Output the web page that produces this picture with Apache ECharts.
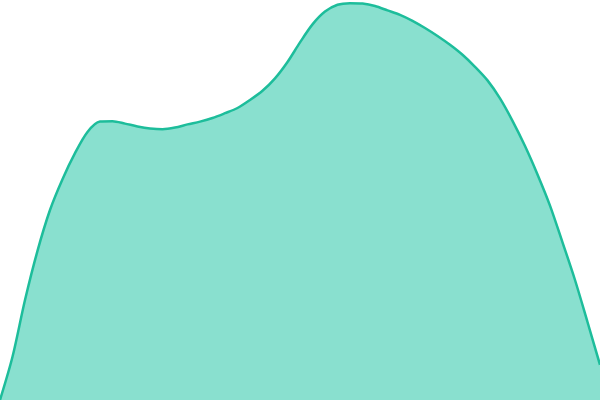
<!DOCTYPE html>
<html><head><meta charset="utf-8">
<script src="https://cdn.jsdelivr.net/npm/echarts@6/dist/echarts.min.js"></script>
<style>html,body{margin:0;padding:0;background:#fff}#c{width:600px;height:400px}</style>
</head><body><div id="c"></div>
<script>
var categories = [];
for (var i = 1; i <= 49; i++) { categories.push(String(i)); }
var values = [0, 10.8, 25, 37.3, 47.5, 55.2, 61.7, 67, 69.6, 69.7, 69.1, 68.4, 67.9, 67.7, 68.1, 68.9,
  69.6, 70.5, 71.7, 73, 75, 77.3, 80.4, 84.5, 89.4, 93.9, 97.1, 98.8, 99.2, 99.1, 98.5, 97.4,
  96.3, 94.8, 93, 91, 88.8, 86.3, 83.3, 79.9, 75.4, 69.8, 63.5, 56.4, 48.6, 39.4, 30, 19.5, 8.8];
var chart = echarts.init(document.getElementById('c'));
chart.setOption({
  animation: false,
  grid: {left: 0, right: 0, top: 0, bottom: 0},
  xAxis: {type: 'category', data: categories, boundaryGap: false, show: false},
  yAxis: {type: 'value', min: 0, max: 100, show: false},
  series: [{
    type: 'line', data: values, smooth: 0.3, symbol: 'none',
    lineStyle: {color: '#1dbd9b', width: 2.5},
    areaStyle: {color: '#89e0cf', opacity: 1}
  }]
});
</script></body></html>
